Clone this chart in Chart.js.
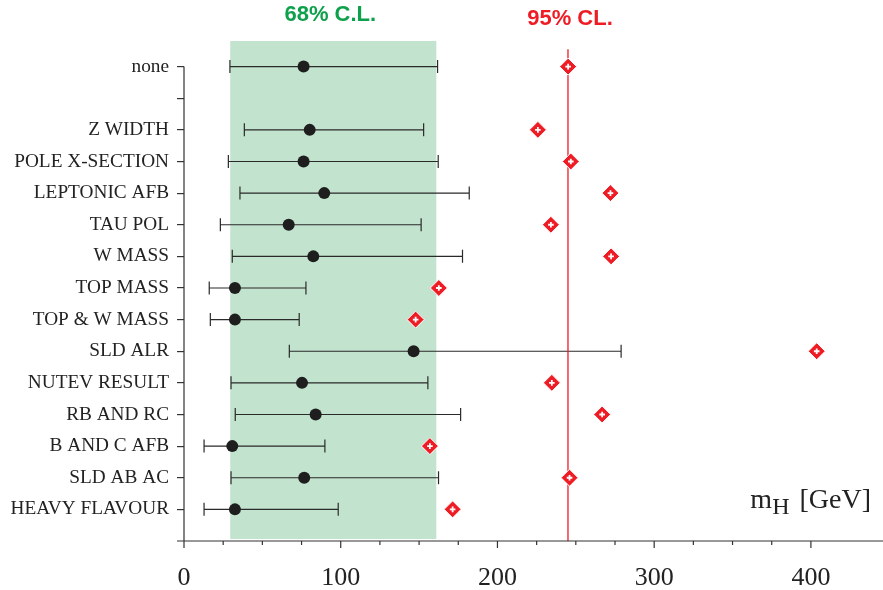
<!DOCTYPE html>
<html>
<head>
<meta charset="utf-8">
<script src="https://cdn.jsdelivr.net/npm/chart.js@4.4.1/dist/chart.umd.min.js"></script>
<style>
  html, body { margin: 0; padding: 0; background: #fff; }
  #wrap { width: 883px; height: 590px; position: relative; }
</style>
</head>
<body>
<div id="wrap"><canvas id="chart"></canvas></div>
<script>
// rows from top to bottom, the empty one is the spacer under "none"
const rows = ['none', '', 'Z WIDTH', 'POLE X-SECTION', 'LEPTONIC AFB', 'TAU POL', 'W MASS',
  'TOP MASS', 'TOP & W MASS', 'SLD ALR', 'NUTEV RESULT', 'RB AND RC', 'B AND C AFB',
  'SLD AB AC', 'HEAVY FLAVOUR'];
// fitted mH and its 68% interval
const central = [76.3, null, 80.2, 76.3, 89.5, 66.8, 82.5, 32.5, 32.5, 146.5, 75.3, 84.0, 30.8, 76.7, 32.5];
const low68   = [29.3, null, 38.5, 28.3, 35.7, 23.2, 30.8, 16.1, 16.8, 67.2, 30.0, 32.7, 12.8, 30.0, 12.8];
const high68  = [161.8, null, 152.9, 162.2, 182.0, 151.3, 177.7, 77.8, 73.5, 278.9, 155.6, 176.5, 89.9, 162.4, 98.4];
// 95% CL upper limits
const upper95 = [245.1, null, 225.8, 246.8, 272.1, 234.1, 272.5, 162.6, 147.8, 403.7, 234.7, 266.8, 156.9, 246.0, 171.4];
// combined bands
const band68 = [29.5, 161];
const limit95 = 245;
const xTickLabels = [0, 100, 200, 300, 400];

const GREEN = '#0fa04c';
const RED = '#ee1d25';
const INK = '#222';
const SERIF = '"Liberation Serif", "Times New Roman", serif';

const pts = arr => arr.map((v, i) => v == null ? null : { x: v, y: i }).filter(p => p);

const overlay = {
  id: 'overlay',
  beforeDatasetsDraw(chart) {
    const { ctx, chartArea: a, scales: { x, y } } = chart;
    ctx.save();
    ctx.fillStyle = '#c2e3cd';
    const x0 = x.getPixelForValue(band68[0]), x1 = x.getPixelForValue(band68[1]);
    ctx.fillRect(x0, a.top, x1 - x0, a.bottom - a.top - 2);
    // error bars
    ctx.strokeStyle = '#2a2a2a';
    ctx.lineWidth = 1.2;
    rows.forEach((r, i) => {
      if (low68[i] == null) return;
      const yy = y.getPixelForValue(i);
      const l = x.getPixelForValue(low68[i]), h = x.getPixelForValue(high68[i]);
      ctx.beginPath();
      ctx.moveTo(l, yy); ctx.lineTo(h, yy);
      ctx.moveTo(l, yy - 6.5); ctx.lineTo(l, yy + 6.5);
      ctx.moveTo(h, yy - 6.5); ctx.lineTo(h, yy + 6.5);
      ctx.stroke();
    });
    ctx.restore();
  },
  afterDraw(chart) {
    const { ctx, chartArea: a, scales: { x, y } } = chart;
    ctx.save();
    ctx.strokeStyle = '#333';
    ctx.lineWidth = 1.2;
    ctx.beginPath();
    // y axis starts at the first row
    ctx.moveTo(a.left, y.getPixelForValue(0));
    ctx.lineTo(a.left, a.bottom);
    // x axis
    ctx.moveTo(a.left - 7, a.bottom);
    ctx.lineTo(a.right, a.bottom);
    x.ticks.forEach(t => {
      if (t.value % 25 !== 0) return;
      const px = x.getPixelForValue(t.value);
      const len = t.value % 100 === 0 ? 7 : 4;
      ctx.moveTo(px, a.bottom);
      ctx.lineTo(px, a.bottom + len);
    });
    ctx.stroke();

    // CL titles
    ctx.textAlign = 'center';
    ctx.textBaseline = 'middle';
    ctx.font = 'bold 22px "Liberation Sans", Arial, sans-serif';
    ctx.fillStyle = GREEN;
    ctx.fillText('68% C.L.', (x.getPixelForValue(band68[0]) + x.getPixelForValue(band68[1])) / 2 - 3, 15);
    ctx.fillStyle = RED;
    ctx.fillText('95% CL.', x.getPixelForValue(limit95) + 2, 19);

    // axis label mH [GeV]
    ctx.textAlign = 'left';
    ctx.textBaseline = 'alphabetic';
    ctx.fillStyle = INK;
    const base = a.bottom - 33;
    const fBig = '28px ' + SERIF;
    const fSub = '24px ' + SERIF;
    ctx.font = fBig;
    const wm = ctx.measureText('m').width, wg = ctx.measureText('[GeV]').width;
    ctx.font = fSub;
    const wh = ctx.measureText('H').width;
    const gap = 10;
    let sx = a.right - 12 - wm - wh - gap - wg;
    ctx.font = fBig; ctx.fillText('m', sx, base); sx += wm;
    ctx.font = fSub; ctx.fillText('H', sx, base + 6); sx += wh + gap;
    ctx.font = fBig; ctx.fillText('[GeV]', sx, base);
    ctx.restore();
  }
};

new Chart(document.getElementById('chart'), {
  type: 'scatter',
  data: {
    datasets: [
      {
        type: 'line',
        data: [{ x: limit95, y: -0.55 }, { x: limit95, y: rows.length }],
        borderColor: RED, borderWidth: 1.3, pointRadius: 0, order: 3
      },
      {
        data: pts(central),
        pointRadius: 6, pointBackgroundColor: '#1e1e1e', pointBorderWidth: 0, order: 2
      },
      {
        data: pts(upper95),
        pointStyle: 'rectRot', pointRadius: 8.5,
        pointBackgroundColor: RED, pointBorderColor: '#fff', pointBorderWidth: 1, order: 1
      },
      {
        data: pts(upper95),
        pointStyle: 'cross', pointRadius: 2.8,
        pointBorderColor: '#fff', pointBorderWidth: 1.8, order: 0
      }
    ]
  },
  options: {
    responsive: true,
    maintainAspectRatio: false,
    animation: false,
    layout: { autoPadding: false, padding: { top: 41, right: 0, left: 0, bottom: 0 } },
    plugins: { legend: { display: false }, tooltip: { enabled: false } },
    scales: {
      x: {
        type: 'linear', min: 0, max: 446,
        afterFit: s => { s.height = 49; s.paddingLeft = 0; s.paddingRight = 0; },
        grid: { display: false },
        border: { display: false },
        ticks: {
          stepSize: 25, autoSkip: false, maxRotation: 0, padding: 14,
          color: INK,
          font: { family: SERIF, size: 26 },
          callback: v => xTickLabels.includes(v) ? String(v) : ''
        }
      },
      y: {
        type: 'linear', reverse: true, min: -0.81, max: rows.length,
        afterFit: s => { s.width = 184; s.paddingTop = 0; s.paddingBottom = 0; },
        afterBuildTicks: s => { s.ticks = rows.map((_, i) => ({ value: i })); },
        grid: { display: true, drawOnChartArea: false, drawTicks: true, tickLength: 7, color: '#333', lineWidth: 1.2 },
        border: { display: false },
        ticks: {
          autoSkip: false, padding: 8, color: INK,
          font: { family: SERIF, size: 19.3 },
          callback: v => rows[v]
        }
      }
    }
  },
  plugins: [overlay]
});
</script>
</body>
</html>
